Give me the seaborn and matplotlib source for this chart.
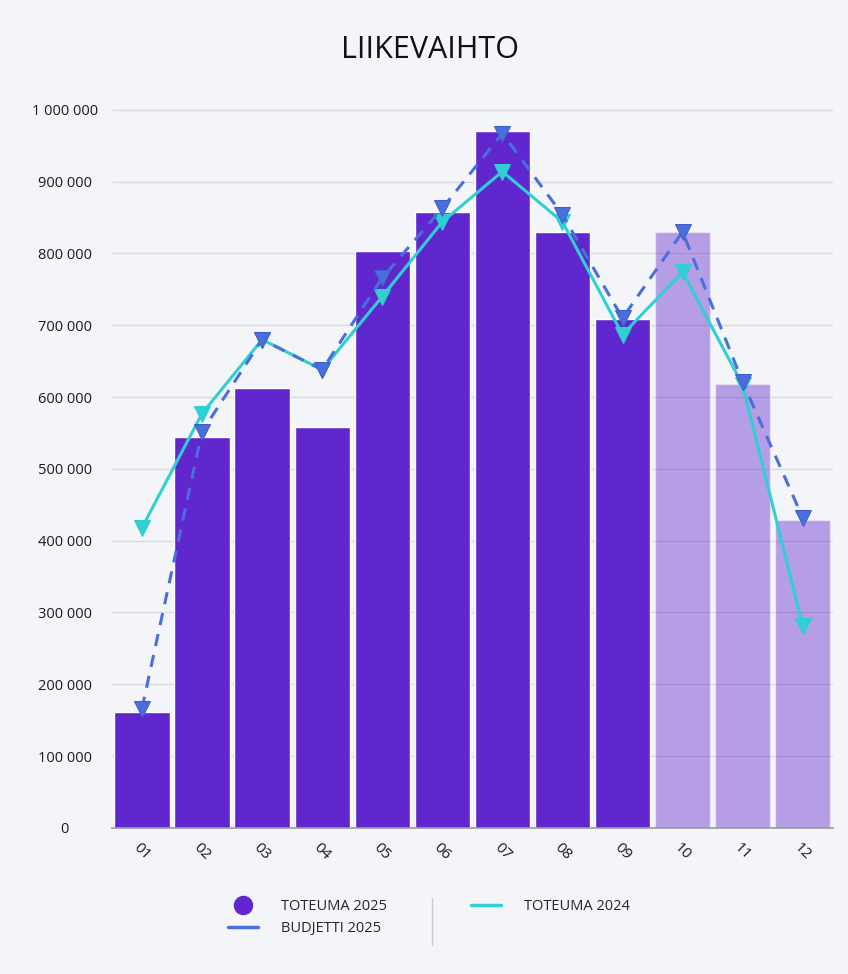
import numpy as np
import pandas as pd
import seaborn as sns
import matplotlib.pyplot as plt
from matplotlib.lines import Line2D
from matplotlib.ticker import FuncFormatter, FixedLocator

# Data
months = ["01", "02", "03", "04", "05", "06", "07", "08", "09", "10", "11", "12"]
toteuma_2025 = [162000, 545000, 613000, 558000, 804000, 858000, 971000, 830000, 709000, 830000, 618000, 429000]
realized = [True, True, True, True, True, True, True, True, True, False, False, False]
budjetti_2025 = [166000, 552000, 680000, 638000, 766000, 863000, 967000, 854000, 710000, 830000, 621000, 432000]
toteuma_2024 = [418000, 577000, 680000, 638000, 740000, 844000, 914000, 844000, 687000, 774000, 617000, 281000]

bg = "#F4F5F9"
purple = "#5F27CD"
blue = "#4A6FDC"
cyan = "#2FCFD2"

sns.set_theme(style="white")
plt.rcParams["font.family"] = ["Open Sans", "DejaVu Sans"]

df = pd.DataFrame({"kk": months, "toteuma": toteuma_2025,
                   "tila": ["tot" if r else "enn" for r in realized]})
lines = pd.DataFrame({"pos": np.arange(len(months)),
                      "budjetti": budjetti_2025, "t2024": toteuma_2024})

fig = plt.figure(figsize=(8.48, 9.74), dpi=100, facecolor=bg)
ax = fig.add_axes([0.132, 0.15, 0.850, 0.752])
ax.set_facecolor(bg)

sns.barplot(data=df, x="kk", y="toteuma", hue="tila", dodge=False,
            palette={"tot": purple, "enn": purple}, width=0.92, saturation=1,
            legend=False, ax=ax, zorder=2)
for patch, r in zip(ax.patches, realized):
    if not r:
        patch.set_alpha(0.42)

sns.lineplot(data=lines, x="pos", y="t2024", ax=ax, color=cyan, lw=2.2,
             marker="v", markersize=11, markeredgecolor=cyan, zorder=3)
sns.lineplot(data=lines, x="pos", y="budjetti", ax=ax, color=blue, lw=2.2,
             linestyle=(0, (4, 3)), marker="v", markersize=11,
             markeredgecolor="#3F5FC8", zorder=4)

ax.set_xlim(-0.5, 11.5)
ax.set_ylim(0, 1020000)
ax.set_yticks(np.arange(0, 1000001, 100000))
ax.yaxis.set_major_formatter(FuncFormatter(lambda v, p: f"{v:,.0f}".replace(",", " ")))
ax.yaxis.grid(True, color="#D8D9DF", lw=1, zorder=0)
ax.set_axisbelow(True)
ax.tick_params(axis="y", length=0, labelsize=10.5, pad=34, colors="#1A1A1A")
for lbl in ax.get_yticklabels():
    lbl.set_ha("center")

# category boundaries as ticks, labels centred in between
ax.xaxis.set_major_locator(FixedLocator(np.arange(-0.5, 12, 1)))
ax.xaxis.set_minor_locator(FixedLocator(np.arange(0, 12)))
ax.set_xticklabels([], minor=False)
ax.set_xticklabels(months, minor=True, rotation=-45, ha="center", fontsize=11)
ax.tick_params(axis="x", which="major", length=6, color="#999999", direction="out")
ax.tick_params(axis="x", which="minor", length=0, pad=9, colors="#1A1A1A")

for s in ["top", "right", "left"]:
    ax.spines[s].set_visible(False)
ax.spines["bottom"].set_color("#999999")
ax.spines["bottom"].set_linewidth(1.2)
ax.set_xlabel("")
ax.set_ylabel("")

fig.text(0.507, 0.949, "LIIKEVAIHTO", ha="center", va="center", fontsize=22, color="#111111")

handles = [
    Line2D([], [], marker="o", color=purple, linestyle="none", markersize=13),
    Line2D([], [], color=blue, lw=2.5),
    Line2D([], [], color=cyan, lw=2.5),
]
labels = ["TOTEUMA 2025", "BUDJETTI 2025", "TOTEUMA 2024"]
fig.legend(handles, labels, loc="center", bbox_to_anchor=(0.506, 0.058),
           ncol=2, frameon=False, fontsize=10.5, columnspacing=5.8,
           handlelength=2.0, handletextpad=1.6, labelspacing=0.5)
fig.add_artist(Line2D([0.509, 0.509], [0.03, 0.078], color="#CCCCCC", lw=1))

fig.savefig("out.png", dpi=100, facecolor=bg)
